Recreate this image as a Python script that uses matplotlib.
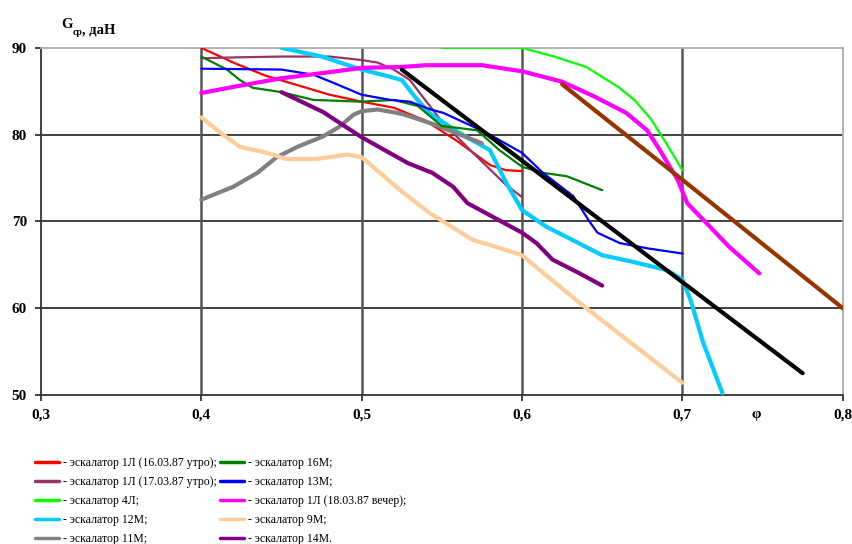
import matplotlib.pyplot as plt
import numpy as np

plt.rcParams['font.family'] = ['Liberation Serif', 'DejaVu Serif']

# эскалатор 1Л (16.03.87 утро)
x_1l_16 = [0.40, 0.42, 0.44, 0.46, 0.48, 0.50, 0.52, 0.54, 0.56, 0.58, 0.59, 0.60]
y_1l_16 = [90.0, 88.3, 86.8, 85.7, 84.6, 83.8, 83.1, 81.6, 79.2, 76.5, 75.9, 75.8]
# эскалатор 1Л (17.03.87 утро)
x_1l_17 = [0.40, 0.42, 0.45, 0.48, 0.50, 0.51, 0.52, 0.53, 0.55, 0.57, 0.59, 0.60]
y_1l_17 = [88.8, 88.9, 89.0, 89.0, 88.6, 88.3, 87.5, 86.3, 81.5, 77.8, 74.2, 72.8]
# эскалатор 4Л
x_4l = [0.55, 0.60, 0.62, 0.64, 0.66, 0.67, 0.68, 0.69, 0.70]
y_4l = [90.0, 90.0, 89.0, 87.8, 85.5, 84.0, 81.9, 79.0, 75.9]
# эскалатор 12М
x_12m = [0.45, 0.475, 0.50, 0.515, 0.525, 0.533, 0.542, 0.56, 0.58, 0.59, 0.60,
         0.615, 0.63, 0.65, 0.67, 0.69, 0.70, 0.705, 0.713, 0.725]
y_12m = [90.0, 89.0, 87.5, 86.8, 86.3, 84.4, 82.5, 80.3, 78.2, 74.5, 71.3,
         69.4, 68.0, 66.1, 65.3, 64.4, 63.3, 61.0, 56.0, 50.2]
# эскалатор 11М
x_11m = [0.40, 0.42, 0.435, 0.447, 0.46, 0.476, 0.486, 0.495, 0.50, 0.51, 0.525, 0.545, 0.575]
y_11m = [72.5, 74.0, 75.6, 77.4, 78.6, 79.8, 80.9, 82.3, 82.7, 82.9, 82.4, 81.2, 79.0]
# эскалатор 16М
x_16m = [0.40, 0.416, 0.424, 0.432, 0.45, 0.47, 0.50, 0.52, 0.535, 0.55, 0.572,
         0.586, 0.60, 0.613, 0.628, 0.65]
y_16m = [89.0, 87.5, 86.3, 85.4, 84.9, 84.0, 83.8, 84.0, 83.3, 81.0, 80.5,
         78.2, 76.3, 75.6, 75.2, 73.6]
# эскалатор 13М
x_13m = [0.40, 0.45, 0.47, 0.482, 0.50, 0.518, 0.53, 0.543, 0.551, 0.578, 0.60,
         0.613, 0.632, 0.642, 0.647, 0.661, 0.678, 0.70]
y_13m = [87.6, 87.5, 86.9, 86.0, 84.6, 84.0, 83.8, 82.9, 82.5, 80.2, 77.9,
         75.6, 72.9, 70.0, 68.7, 67.5, 66.9, 66.3]
# эскалатор 1Л (18.03.87 вечер)
x_1l_18 = [0.40, 0.42, 0.45, 0.48, 0.50, 0.525, 0.54, 0.575, 0.60, 0.625, 0.645,
           0.665, 0.678, 0.686, 0.697, 0.703, 0.715, 0.729, 0.748]
y_1l_18 = [84.8, 85.5, 86.5, 87.2, 87.7, 87.8, 88.0, 88.0, 87.3, 86.1, 84.4,
           82.5, 80.5, 78.2, 74.8, 72.1, 69.8, 67.1, 64.0]
# эскалатор 9М
x_9m = [0.40, 0.412, 0.424, 0.441, 0.453, 0.472, 0.491, 0.50, 0.507, 0.524, 0.542,
        0.549, 0.569, 0.59, 0.60, 0.611, 0.636, 0.663, 0.70]
y_9m = [82.0, 80.2, 78.6, 77.9, 77.2, 77.2, 77.7, 77.4, 76.3, 73.6, 71.0,
        70.2, 67.9, 66.7, 66.1, 64.4, 60.6, 56.7, 51.4]
# эскалатор 14М
x_14m = [0.45, 0.476, 0.50, 0.529, 0.544, 0.557, 0.566, 0.582, 0.60, 0.609, 0.619, 0.636, 0.65]
y_14m = [84.9, 82.6, 79.7, 76.7, 75.6, 74.0, 72.1, 70.5, 68.7, 67.5, 65.6, 64.0, 62.6]
# unlabeled straight lines
x_black = [0.525, 0.65, 0.775]
y_black = [87.5, 70.0, 52.5]
x_brown = [0.625, 0.70, 0.80]
y_brown = [85.8, 74.8, 60.0]

x_ticks = [0.3, 0.4, 0.5, 0.6, 0.7, 0.8]
x_ticklabels = ['0,3', '0,4', '0,5', '0,6', '0,7', '0,8']
y_ticks = [50, 60, 70, 80, 90]

fig = plt.figure(figsize=(8.53, 5.44), dpi=100)
ax = fig.add_axes([0.048, 0.274, 0.940, 0.638])

# grid (interior lines only)
for v in y_ticks[1:-1]:
    ax.axhline(v, color='#333333', lw=1.3, zorder=1)
for v in x_ticks[1:-1]:
    ax.axvline(v, color='#555555', lw=1.8, zorder=1)

thin = 1.6
thick = 3.0
series = [
    (x_1l_16, y_1l_16, '#FF0000', thin, '- эскалатор 1Л (16.03.87 утро);'),
    (x_1l_17, y_1l_17, '#993366', thin, '- эскалатор 1Л (17.03.87 утро);'),
    (x_4l, y_4l, '#00FF00', thin, '- эскалатор 4Л;'),
    (x_12m, y_12m, '#00CCFF', thick, '- эскалатор 12М;'),
    (x_11m, y_11m, '#808080', thick, '- эскалатор 11М;'),
    (x_16m, y_16m, '#008000', thin, '- эскалатор 16М;'),
    (x_13m, y_13m, '#0000FF', thin, '- эскалатор 13М;'),
    (x_1l_18, y_1l_18, '#FF00FF', thick, '- эскалатор 1Л (18.03.87 вечер);'),
    (x_9m, y_9m, '#FFCC99', thick, '- эскалатор 9М;'),
    (x_14m, y_14m, '#800080', thick, '- эскалатор 14М.'),
]

handles = []
for xs, ys, c, lw, lab in series:
    ln, = ax.plot(xs, ys, color=c, lw=lw, label=lab, solid_capstyle='round', zorder=3)
    handles.append(ln)

ax.plot(x_black, y_black, color='black', lw=thick, solid_capstyle='round', zorder=3)
ax.plot(x_brown, y_brown, color='#993300', lw=thick, solid_capstyle='round', zorder=3)

ax.set_xlim(0.3, 0.8)
ax.set_ylim(50, 90)
ax.set_xticks(x_ticks)
ax.set_xticklabels(x_ticklabels)
ax.set_yticks(y_ticks)
ax.tick_params(axis='both', length=4, width=1.3, color='#333333',
               labelsize=11, pad=6)
for t in ax.get_xticklabels() + ax.get_yticklabels():
    t.set_fontweight('bold')

ax.spines['left'].set_color('#333333')
ax.spines['bottom'].set_color('#333333')
ax.spines['left'].set_linewidth(1.3)
ax.spines['bottom'].set_linewidth(1.3)
ax.spines['top'].set_color('#aaaaaa')
ax.spines['right'].set_color('#aaaaaa')
ax.spines['top'].set_linewidth(1.3)
ax.spines['right'].set_linewidth(1.3)

# axis captions
g = fig.text(61 / 853, 1 - 28 / 544, 'G', fontsize=10.5, fontweight='bold')
sub = ax.annotate('ср', xy=(1, 0), xycoords=g, xytext=(0, -3),
                  textcoords='offset points', fontsize=7, fontweight='bold',
                  va='baseline')
ax.annotate(', даН', xy=(1, 0), xycoords=sub, xytext=(0, 3),
            textcoords='offset points', fontsize=10.5, fontweight='bold',
            va='baseline')
ax.text(0.746, -0.055, 'φ', transform=ax.get_xaxis_transform(),
        fontsize=11, fontweight='bold', ha='center', va='center')

leg = fig.legend(handles=handles, loc='upper left', bbox_to_anchor=(35 / 853, 1 - 457 / 544),
                 ncol=2, frameon=False, fontsize=8.5, handlelength=2.0,
                 handletextpad=0.35, labelspacing=0.6, columnspacing=0.3,
                 borderpad=0, borderaxespad=0)
for h in leg.legend_handles:
    h.set_linewidth(2.5)

fig.savefig('out.png', dpi=100)
